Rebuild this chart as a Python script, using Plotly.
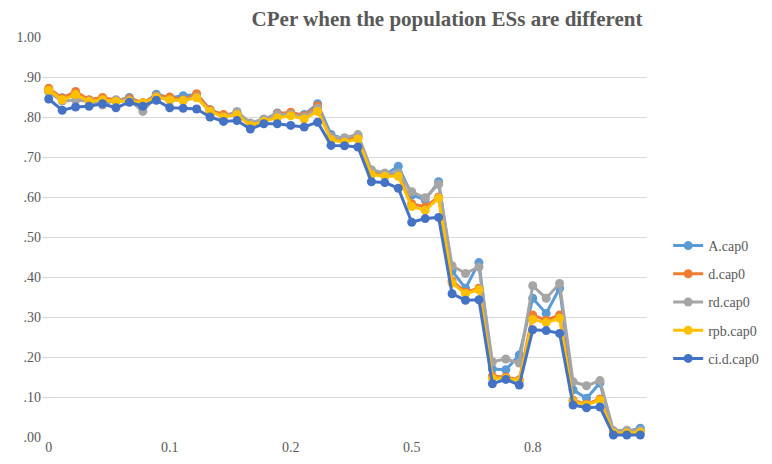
import plotly.graph_objects as go

# category index 0..44, only some labels shown on the axis
idx = list(range(45))
tick_pos = [0, 9, 18, 27, 36]
tick_labels = ["0", "0.1", "0.2", "0.5", "0.8"]

y_ticks = [0.0, 0.1, 0.2, 0.3, 0.4, 0.5, 0.6, 0.7, 0.8, 0.9, 1.0]
y_tick_labels = [".00", ".10", ".20", ".30", ".40", ".50", ".60", ".70", ".80", ".90", "1.00"]

a_cap0 = [0.868, 0.848, 0.855, 0.842, 0.846, 0.840, 0.849, 0.833, 0.857, 0.848,
          0.853, 0.856, 0.818, 0.803, 0.810, 0.782, 0.793, 0.810, 0.808, 0.806,
          0.833, 0.756, 0.745, 0.752, 0.660, 0.655, 0.677, 0.605, 0.593, 0.638,
          0.415, 0.372, 0.436, 0.170, 0.168, 0.205, 0.347, 0.309, 0.372, 0.118,
          0.097, 0.135, 0.013, 0.014, 0.022]
d_cap0 = [0.872, 0.847, 0.864, 0.843, 0.849, 0.842, 0.846, 0.836, 0.853, 0.850,
          0.843, 0.858, 0.818, 0.806, 0.808, 0.781, 0.792, 0.808, 0.812, 0.803,
          0.828, 0.750, 0.742, 0.750, 0.660, 0.655, 0.656, 0.583, 0.575, 0.600,
          0.390, 0.362, 0.372, 0.152, 0.150, 0.143, 0.305, 0.292, 0.305, 0.092,
          0.082, 0.095, 0.010, 0.011, 0.012]
rd_cap0 = [0.862, 0.840, 0.842, 0.840, 0.830, 0.843, 0.842, 0.814, 0.852, 0.842,
           0.842, 0.850, 0.815, 0.800, 0.814, 0.785, 0.795, 0.806, 0.807, 0.800,
           0.822, 0.750, 0.748, 0.756, 0.668, 0.660, 0.660, 0.613, 0.598, 0.632,
           0.428, 0.409, 0.425, 0.188, 0.195, 0.185, 0.378, 0.347, 0.384, 0.138,
           0.128, 0.141, 0.016, 0.017, 0.016]
rpb_cap0 = [0.867, 0.843, 0.856, 0.839, 0.843, 0.839, 0.840, 0.835, 0.849, 0.843,
            0.841, 0.848, 0.814, 0.800, 0.806, 0.779, 0.789, 0.798, 0.803, 0.795,
            0.814, 0.743, 0.737, 0.745, 0.656, 0.652, 0.652, 0.576, 0.567, 0.597,
            0.385, 0.358, 0.368, 0.147, 0.147, 0.140, 0.294, 0.286, 0.297, 0.088,
            0.080, 0.092, 0.010, 0.010, 0.012]
cid_cap0 = [0.845, 0.817, 0.825, 0.827, 0.833, 0.823, 0.837, 0.827, 0.842, 0.823,
            0.822, 0.820, 0.800, 0.789, 0.791, 0.770, 0.783, 0.783, 0.779, 0.775,
            0.787, 0.729, 0.728, 0.725, 0.638, 0.636, 0.622, 0.537, 0.546, 0.549,
            0.358, 0.342, 0.343, 0.133, 0.144, 0.130, 0.268, 0.266, 0.259, 0.080,
            0.073, 0.075, 0.005, 0.005, 0.005]

series = [
    ("A.cap0", a_cap0, "#5B9BD5"),
    ("d.cap0", d_cap0, "#ED7D31"),
    ("rd.cap0", rd_cap0, "#A5A5A5"),
    ("rpb.cap0", rpb_cap0, "#FFC000"),
    ("ci.d.cap0", cid_cap0, "#4472C4"),
]

serif = "Liberation Serif"

fig = go.Figure()
for name, vals, color in series:
    fig.add_trace(go.Scatter(x=idx, y=vals, name=name, legendgroup=name,
                             mode="lines+markers", cliponaxis=False,
                             line=dict(color=color, width=3),
                             marker=dict(color=color, size=9, symbol="circle")))

# the page body adds an 8px margin, so the figure is 8px smaller on each side
fig.update_layout(
    width=764, height=456,
    margin=dict(l=34, r=125, t=29, b=27, autoexpand=False),
    paper_bgcolor="white", plot_bgcolor="white",
    font=dict(family=serif, size=14, color="#595959"),
    title=dict(text="<b>CPer when the population ESs are different</b>",
               x=0.5746, xanchor="center", y=0.976, yanchor="middle",
               font=dict(family=serif, size=21, color="#595959")),
    legend=dict(x=1.035, xanchor="left", y=0.3375, yanchor="middle",
                font=dict(family=serif, size=14, color="#595959"),
                tracegroupgap=7, itemwidth=30),
    showlegend=True,
)
fig.update_xaxes(range=[-0.5, 44.5], tickmode="array", tickvals=tick_pos,
                 ticktext=tick_labels, showgrid=False, zeroline=False,
                 showline=False, ticks="", automargin=False,
                 tickfont=dict(family=serif, size=14, color="#595959"))
fig.update_yaxes(range=[0, 1], tickmode="array", tickvals=y_ticks,
                 ticktext=y_tick_labels, showgrid=True, gridcolor="#D9D9D9",
                 gridwidth=1, zeroline=False, showline=False, ticks="",
                 automargin=False,
                 tickfont=dict(family=serif, size=14, color="#595959"))

fig.write_html("out.html")
